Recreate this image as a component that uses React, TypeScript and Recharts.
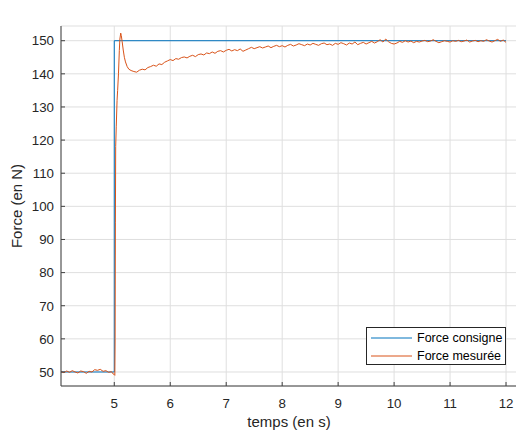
import React from "react";
import { LineChart, Line, XAxis, YAxis, CartesianGrid, Legend, Label } from "recharts";

// Consigne (setpoint step)
const consigneTime = [4.05, 5.0, 5.0, 12.0];
const consigneForce = [50, 50, 150, 150];

const measuredTime = [
  4.05, 4.1, 4.15, 4.2, 4.25, 4.3, 4.35, 4.4, 4.45, 4.5, 4.55, 4.6, 4.65, 4.7, 4.75, 4.8, 4.85, 4.9, 4.95, 4.98,
  5.0, 5.01, 5.015, 5.02, 5.025, 5.035, 5.05, 5.06, 5.075, 5.09, 5.1, 5.115, 5.125, 5.14, 5.16, 5.18, 5.2, 5.23,
  5.26, 5.3, 5.35, 5.4, 5.45, 5.5, 5.55, 5.6, 5.65,
  5.7, 5.75, 5.8, 5.85, 5.9, 5.95, 6.0, 6.05, 6.1, 6.15, 6.2, 6.25, 6.3, 6.35, 6.4, 6.45, 6.5, 6.55, 6.6, 6.65,
  6.7, 6.75, 6.8, 6.85, 6.9, 6.95, 7.0, 7.05, 7.1, 7.15, 7.2, 7.25, 7.3, 7.35, 7.4, 7.45, 7.5, 7.55, 7.6, 7.65,
  7.7, 7.75, 7.8, 7.85, 7.9, 7.95, 8.0, 8.05, 8.1, 8.15, 8.2, 8.25, 8.3, 8.35, 8.4, 8.45, 8.5, 8.55, 8.6, 8.65,
  8.7, 8.75, 8.8, 8.85, 8.9, 8.95, 9.0, 9.05, 9.1, 9.15, 9.2, 9.25, 9.3, 9.35, 9.4, 9.45, 9.5, 9.55, 9.6, 9.65,
  9.7, 9.75, 9.8, 9.85, 9.9, 9.95, 10.0, 10.05, 10.1, 10.15, 10.2, 10.25, 10.3, 10.35, 10.4, 10.45, 10.5, 10.55,
  10.6, 10.65, 10.7, 10.75, 10.8, 10.85, 10.9, 10.95, 11.0, 11.05, 11.1, 11.15, 11.2, 11.25, 11.3, 11.35, 11.4,
  11.45, 11.5, 11.55, 11.6, 11.65, 11.7, 11.75, 11.8, 11.85, 11.9, 11.95, 12.0,
];
const measuredForce = [
  50.1, 49.8, 50.3, 49.9, 50.4, 50.0, 49.7, 50.3, 50.1, 49.6, 50.2, 50.0, 50.7, 50.5, 50.8, 50.2, 50.4, 49.9, 50.1, 49.4,
  49.2, 49.0, 60, 95, 118, 124, 132, 135, 140, 147, 150.5, 152.3, 151.6, 149.8, 147.2, 145.0, 143.6, 142.2,
  141.4, 141.0, 140.7, 140.5, 141.1, 141.4, 141.2, 141.9, 142.2,
  142.6, 142.3, 143.0, 142.8, 143.5, 143.9, 144.3, 144.0, 144.6, 144.4, 144.9, 145.1, 144.8, 145.3, 145.6, 145.2, 145.8, 146.0, 145.7, 146.3,
  146.1, 146.6, 146.2, 146.8, 147.0, 146.6, 147.1, 147.4, 146.9, 147.3, 147.0, 147.5, 146.8, 147.2, 147.6, 148.0, 147.6, 147.9, 148.2, 147.8,
  148.1, 148.4, 147.9, 148.3, 148.6, 148.2, 148.5, 148.1, 148.6, 148.9, 148.4, 148.7, 149.1, 148.8, 148.5, 149.0, 148.7, 149.2, 148.9, 148.6,
  149.1, 149.3, 148.8, 149.0, 148.6, 149.2, 148.9, 149.4, 149.1, 148.7, 149.3, 149.0, 149.6, 148.8, 149.2, 149.5, 149.0, 149.4, 149.8, 149.3,
  149.7, 150.3, 149.6, 150.5, 149.7, 149.2, 149.0, 149.3, 149.8, 149.5, 150.0, 149.6, 149.9, 149.4, 149.8, 149.6, 149.9, 150.1,
  149.7, 149.9, 150.3, 149.8, 149.4, 149.7, 150.0, 149.8, 149.6, 150.0, 149.8, 150.1, 149.7, 149.9, 150.2, 149.6, 149.9,
  150.1, 149.7, 150.0, 149.8, 150.3, 149.9, 149.6, 150.0, 150.4, 149.8, 150.2, 149.5,
];

const xTicks = [5, 6, 7, 8, 9, 10, 11, 12];
const yTicks = [50, 60, 70, 80, 90, 100, 110, 120, 130, 140, 150];

const consigneData = consigneTime.map((t, i) => ({ t, f: consigneForce[i] }));
const measuredData = measuredTime.map((t, i) => ({ t, f: measuredForce[i] }));

const FONT = '"Liberation Sans", Arial, Helvetica, sans-serif';
const AXIS = "#404040";
const TEXT = "#262626";
const BLUE = "#0072BD";
const ORANGE = "#D95319";
const TICK_LEN = 4;

const BottomTick = (props: any) => {
  const { x, y, payload } = props;
  return (
    <g>
      <line x1={x} y1={y} x2={x} y2={y - TICK_LEN} stroke={AXIS} />
      <text x={x} y={y + 22} textAnchor="middle" fill={TEXT} fontSize={13.3} fontFamily={FONT}>
        {payload.value}
      </text>
    </g>
  );
};

const TopTick = (props: any) => {
  const { x, y } = props;
  return <line x1={x} y1={y} x2={x} y2={y + TICK_LEN} stroke={AXIS} />;
};

const LeftTick = (props: any) => {
  const { x, y, payload } = props;
  return (
    <g>
      <line x1={x + 7} y1={y} x2={x + 7 + TICK_LEN} y2={y} stroke={AXIS} />
      <text x={x} y={y} dy="0.36em" textAnchor="end" fill={TEXT} fontSize={13.3} fontFamily={FONT}>
        {payload.value}
      </text>
    </g>
  );
};

const RightTick = (props: any) => {
  const { x, y } = props;
  return <line x1={x} y1={y} x2={x - TICK_LEN} y2={y} stroke={AXIS} />;
};

const LegendBox = () => (
  <div
    style={{
      width: 138,
      height: 36,
      border: "1px solid #262626",
      background: "#fff",
      fontFamily: FONT,
      fontSize: 12.5,
      color: "#000",
      position: "relative",
    }}
  >
    {[
      { name: "Force consigne", color: BLUE },
      { name: "Force mesurée", color: ORANGE },
    ].map((item, i) => (
      <div key={item.name} style={{ position: "absolute", left: 4, top: 2 + i * 17.5, height: 16, display: "flex", alignItems: "center" }}>
        <svg width={42} height={16}>
          <line x1={0} y1={8} x2={41} y2={8} stroke={item.color} strokeWidth={1} />
        </svg>
        <span style={{ marginLeft: 4, whiteSpace: "nowrap" }}>{item.name}</span>
      </div>
    ))}
  </div>
);

export default function App() {
  return (
    <div style={{ position: "absolute", left: 0, top: 0, width: 516, height: 436, overflow: "hidden", background: "#fff" }}>
      <LineChart width={518} height={436} margin={{ top: 26, right: 1, bottom: 0, left: 0 }}>
        <CartesianGrid stroke="#dfdfdf" strokeWidth={1} />
        <XAxis
          xAxisId={0}
          dataKey="t"
          type="number"
          domain={[4.048, 12.196]}
          allowDataOverflow
          ticks={xTicks}
          height={50}
          stroke={AXIS}
          tickLine={false}
          tickSize={0}
          tickMargin={0}
          tick={<BottomTick />}
          interval={0}
        >
          <Label
            content={() => (
              <text x={289} y={427} textAnchor="middle" fill={TEXT} fontSize={15} fontFamily={FONT}>
                temps (en s)
              </text>
            )}
          />
        </XAxis>
        <XAxis
          xAxisId="top"
          orientation="top"
          dataKey="t"
          type="number"
          domain={[4.048, 12.196]}
          allowDataOverflow
          ticks={xTicks}
          height={0}
          stroke={AXIS}
          tickLine={false}
          tickSize={0}
          tick={<TopTick />}
          interval={0}
        >
          <Label
            content={() => (
              <text x={289} y={19.5} textAnchor="middle" fill="#000" fontSize={15} fontWeight="bold" fontFamily={FONT}>
                Correcteur PI en force
              </text>
            )}
          />
        </XAxis>
        <YAxis
          yAxisId={0}
          type="number"
          domain={[45.77, 154.44]}
          allowDataOverflow
          ticks={yTicks}
          width={61}
          stroke={AXIS}
          tickLine={false}
          tickSize={0}
          tickMargin={7}
          tick={<LeftTick />}
          interval={0}
        >
          <Label
            content={() => (
              <text
                x={22}
                y={206}
                transform="rotate(-90 22 206)"
                textAnchor="middle"
                fill={TEXT}
                fontSize={15}
                fontFamily={FONT}
              >
                Force (en N)
              </text>
            )}
          />
        </YAxis>
        <YAxis
          yAxisId="right"
          orientation="right"
          type="number"
          domain={[45.77, 154.44]}
          allowDataOverflow
          ticks={yTicks}
          width={0}
          stroke={AXIS}
          tickLine={false}
          tickSize={0}
          tick={<RightTick />}
          interval={0}
        />
        <Legend
          layout="horizontal"
          verticalAlign="middle"
          align="center"
          wrapperStyle={{ position: "absolute", left: 366, top: 327, width: 140, height: 38 }}
          content={() => <LegendBox />}
        />
        <Line
          data={consigneData}
          dataKey="f"
          name="Force consigne"
          type="linear"
          stroke={BLUE}
          strokeWidth={1}
          dot={false}
          activeDot={false}
          isAnimationActive={false}
        />
        <Line
          data={measuredData}
          dataKey="f"
          name="Force mesurée"
          type="linear"
          stroke={ORANGE}
          strokeWidth={1}
          dot={false}
          activeDot={false}
          isAnimationActive={false}
        />
      </LineChart>
    </div>
  );
}
